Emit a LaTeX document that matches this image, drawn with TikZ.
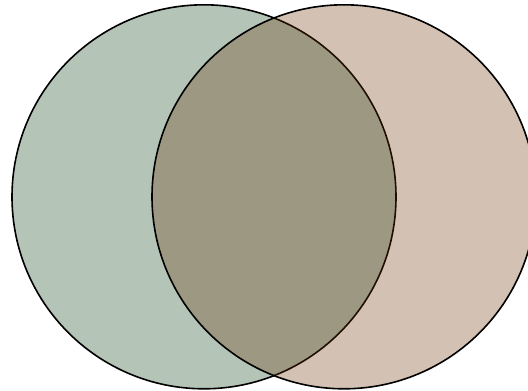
\documentclass[tikz,border=0pt]{standalone}
\begin{document}
\begin{tikzpicture}[x=1pt,y=-1pt,
  setA/.style={circle, draw=black, line width=1.6pt, fill=leftc, fill opacity=0.3, draw opacity=1, minimum size=384pt, inner sep=0pt},
  setB/.style={circle, draw=black, line width=1.6pt, fill=rightc, fill opacity=0.3, draw opacity=1, minimum size=384pt, inner sep=0pt}]
\definecolor{leftc}{RGB}{5,58,15}
\definecolor{rightc}{RGB}{108,52,5}
\useasboundingbox (0,0) rectangle (528,391);
\clip (0,0) rectangle (528,391);
\node[setA] (A) at (204,196.8) {};
\node[setB] (B) at (344,196.8) {};
\end{tikzpicture}
\end{document}
